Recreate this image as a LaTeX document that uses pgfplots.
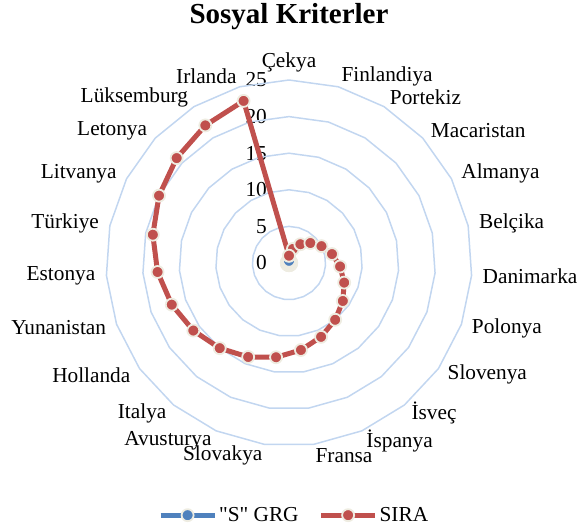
\documentclass[border=0pt]{standalone}
\usepackage{fontspec}
\setmainfont{Liberation Serif}
\newfontfamily\nomap{Liberation Serif}
\usepackage{pgfplots}
\pgfplotsset{compat=1.18}
\usepgfplotslibrary{polar}
\usepackage{pgfplotstable}
\definecolor{sira}{HTML}{C0504D}
\definecolor{grg}{HTML}{4F81BD}
\definecolor{beige}{HTML}{EEECE1}
\definecolor{gridc}{HTML}{C2D6F0}
\newcommand\lab{\fontsize{21.3bp}{25bp}\selectfont}
\pgfplotstableread{
ang grg sira
450 0.3 1
434.348 0.3 2
418.696 0.3 3
403.043 0.3 4
387.391 0.3 5
371.739 0.3 6
356.087 0.3 7
340.435 0.3 8
324.783 0.3 9
309.130 0.3 10
293.478 0.3 11
277.826 0.3 12
262.174 0.3 13
246.522 0.3 14
230.870 0.3 15
215.217 0.3 16
199.565 0.3 17
183.913 0.3 18
168.261 0.3 19
152.609 0.3 20
136.957 0.3 21
121.304 0.3 22
105.652 0.3 23
90 0.3 1
}\data
\begin{document}
\begin{tikzpicture}
\useasboundingbox (0,0) rectangle (578bp,531bp);
\begin{polaraxis}[
  at={(289bp,268bp)}, anchor=center,
  scale only axis, width=366bp, height=366bp,
  xmin=90, xmax=450, ymin=0, ymax=25,
  xtick=\empty, ytick={0,5,...,25},
  major tick length=0pt,
  axis line style={draw=none},
  xmajorgrids=false, ymajorgrids=false,
  yticklabel style={font=\lab, anchor=east, inner sep=0pt, xshift=-22bp},
  /pgf/number format/assume math mode=true,
  clip=false,
  legend columns=2,
  legend style={draw=none, fill=none, font=\lab, at={(0.514,-0.189)}, anchor=center,
    /tikz/every even column/.append style={column sep=18bp}},
  legend cell align=left,
  legend image code/.code={\draw[#1, mark repeat=2, mark phase=2] plot coordinates {(0bp,0bp) (27bp,0bp) (54bp,0bp)};},
]
\addplot[gridc, line width=1.5bp, forget plot] table[x=ang, y expr=5] {\data};
\addplot[gridc, line width=1.5bp, forget plot] table[x=ang, y expr=10] {\data};
\addplot[gridc, line width=1.5bp, forget plot] table[x=ang, y expr=15] {\data};
\addplot[gridc, line width=1.5bp, forget plot] table[x=ang, y expr=20] {\data};
\addplot[gridc, line width=1.5bp, forget plot] table[x=ang, y expr=25] {\data};
\addplot[grg, line width=5bp, mark=*, mark size=6bp, mark options={fill=grg, draw=beige, line width=1.8bp}] table[x=ang, y=grg] {\data};
\addlegendentry{{\nomap"S"} GRG}
\addplot[sira, line width=5bp, mark=*, mark size=6bp, mark options={fill=sira, draw=beige, line width=1.8bp}] table[x=ang, y=sira] {\data};
\addlegendentry{SIRA}
\node[anchor=south, font=\lab, inner sep=0pt] at (axis cs:450,26.1) {Çekya};
\node[anchor=west, font=\lab, inner sep=0pt] at (axis cs:434.348,26.5) {Finlandiya};
\node[anchor=west, font=\lab, inner sep=0pt] at (axis cs:418.696,26.5) {Portekiz};
\node[anchor=west, font=\lab, inner sep=0pt] at (axis cs:403.043,26.5) {Macaristan};
\node[anchor=west, font=\lab, inner sep=0pt] at (axis cs:387.391,26.5) {Almanya};
\node[anchor=west, font=\lab, inner sep=0pt] at (axis cs:371.739,26.5) {Belçika};
\node[anchor=west, font=\lab, inner sep=0pt] at (axis cs:356.087,26.5) {Danimarka};
\node[anchor=west, font=\lab, inner sep=0pt] at (axis cs:340.435,26.5) {Polonya};
\node[anchor=west, font=\lab, inner sep=0pt] at (axis cs:324.783,26.5) {Slovenya};
\node[anchor=west, font=\lab, inner sep=0pt] at (axis cs:309.130,26.5) {İsveç};
\node[anchor=west, font=\lab, inner sep=0pt] at (axis cs:293.478,26.5) {İspanya};
\node[anchor=west, font=\lab, inner sep=0pt] at (axis cs:277.826,26.5) {Fransa};
\node[anchor=east, font=\lab, inner sep=0pt] at (axis cs:262.174,26.5) {Slovakya};
\node[anchor=east, font=\lab, inner sep=0pt] at (axis cs:246.522,26.5) {Avusturya};
\node[anchor=east, font=\lab, inner sep=0pt] at (axis cs:230.870,26.5) {Italya};
\node[anchor=east, font=\lab, inner sep=0pt] at (axis cs:215.217,26.5) {Hollanda};
\node[anchor=east, font=\lab, inner sep=0pt] at (axis cs:199.565,26.5) {Yunanistan};
\node[anchor=east, font=\lab, inner sep=0pt] at (axis cs:183.913,26.5) {Estonya};
\node[anchor=east, font=\lab, inner sep=0pt] at (axis cs:168.261,26.5) {Türkiye};
\node[anchor=east, font=\lab, inner sep=0pt] at (axis cs:152.609,26.5) {Litvanya};
\node[anchor=east, font=\lab, inner sep=0pt] at (axis cs:136.957,26.5) {Letonya};
\node[anchor=east, font=\lab, inner sep=0pt] at (axis cs:121.304,26.5) {Lüksemburg};
\node[anchor=east, font=\lab, inner sep=0pt] at (axis cs:105.652,26.5) {Irlanda};
\end{polaraxis}
\node[font=\bfseries\fontsize{29bp}{34bp}\selectfont] at (289bp,514bp) {Sosyal Kriterler};
\end{tikzpicture}
\end{document}
